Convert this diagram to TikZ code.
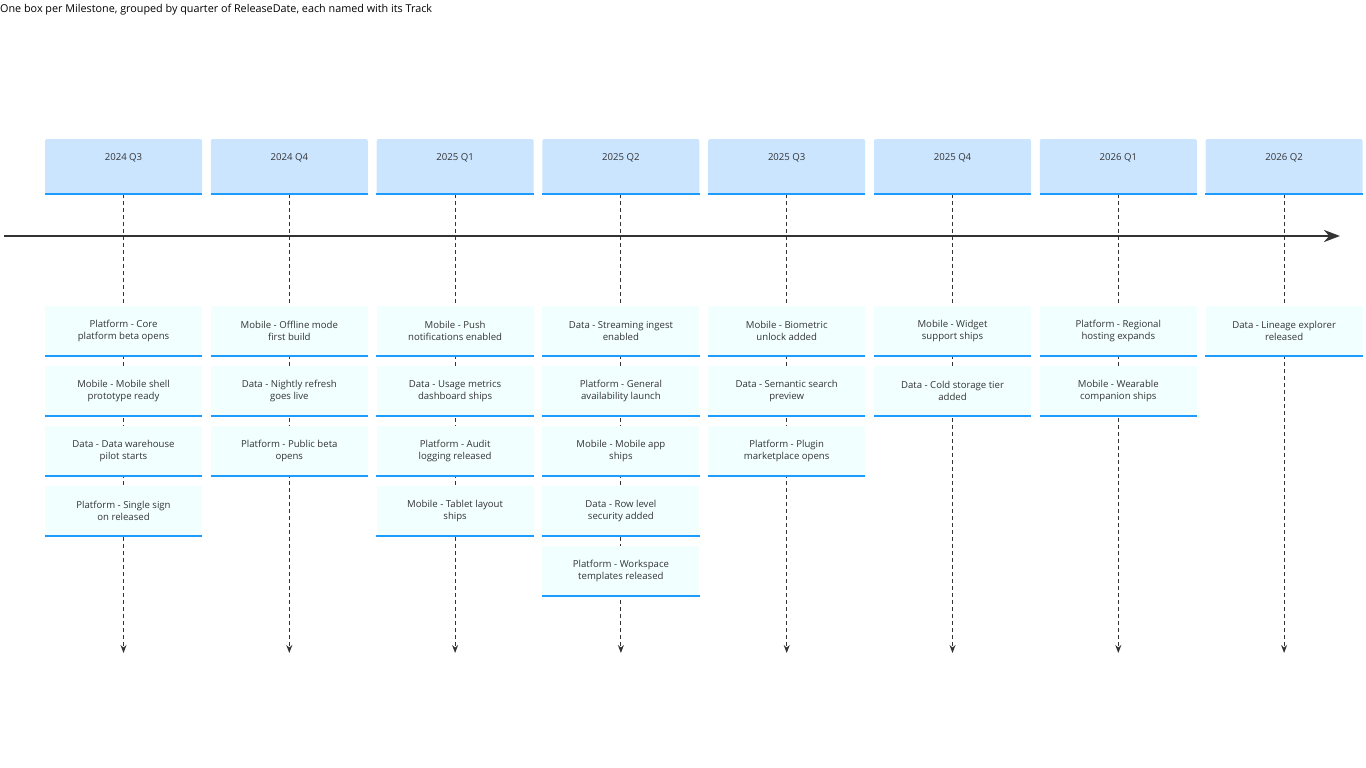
\documentclass[tikz,border=0pt]{standalone}
\usepackage{fontspec}
\setmainfont{Open Sans}
\usetikzlibrary{arrows.meta}
\definecolor{hdrfill}{HTML}{CCE5FF}
\definecolor{evfill}{HTML}{F2FFFF}
\definecolor{edge}{HTML}{1E9BFF}
\definecolor{axis}{HTML}{333333}
\tikzset{
  hdr/.style={fill=hdrfill,rounded corners=2pt,minimum width=157pt,minimum height=55pt,inner sep=0pt},
  ev/.style={fill=evfill,minimum width=157pt,minimum height=50pt,inner sep=0pt,align=center,font=\fontsize{9.6}{11.5}\selectfont,text=axis},
  bar/.style={edge,line width=1.8pt},
  stem/.style={axis,dashed,dash pattern=on 4pt off 3pt,line width=1.1pt,-{Stealth[length=8pt,width=6pt]}}
}
\begin{document}
\begin{tikzpicture}[x=1pt,y=-1pt]
  \useasboundingbox (0,0) rectangle (1366,768);
  \node[anchor=north west,inner sep=0pt,font=\fontsize{10.8}{12}\selectfont] (title) at (0,4) {One box per Milestone, grouped by quarter of ReleaseDate, each named with its Track};

  % quarters
  \foreach \i/\q in {1/2024 Q3,2/2024 Q4,3/2025 Q1,4/2025 Q2,5/2025 Q3,6/2025 Q4,7/2026 Q1,8/2026 Q2} {
    \pgfmathsetmacro{\cx}{123.5+165.8*(\i-1)}
    \coordinate (end\i) at (\cx,653);
    \node[hdr] (H\i) at (\cx,166.5) {};
    \node[font=\fontsize{9.6}{11}\selectfont,text=axis] (Q\i) at (\cx,158) {\q};
    \draw[stem] (H\i.south) -- (end\i);
    \draw[bar] (H\i.south west) -- (H\i.south east);
  }

  % time axis
  \coordinate (a0) at (4,236);
  \coordinate (a1) at (1340,236);
  \draw[axis,line width=2.8pt,-{Stealth[length=16pt,width=12pt]}] (a0) -- (a1);

  % milestones
  \foreach \i/\r/\t in {
    1/1/{Platform - Core\\platform beta opens},
    1/2/{Mobile - Mobile shell\\prototype ready},
    1/3/{Data - Data warehouse\\pilot starts},
    1/4/{Platform - Single sign\\on released},
    2/1/{Mobile - Offline mode\\first build},
    2/2/{Data - Nightly refresh\\goes live},
    2/3/{Platform - Public beta\\opens},
    3/1/{Mobile - Push\\notifications enabled},
    3/2/{Data - Usage metrics\\dashboard ships},
    3/3/{Platform - Audit\\logging released},
    3/4/{Mobile - Tablet layout\\ships},
    4/1/{Data - Streaming ingest\\enabled},
    4/2/{Platform - General\\availability launch},
    4/3/{Mobile - Mobile app\\ships},
    4/4/{Data - Row level\\security added},
    4/5/{Platform - Workspace\\templates released},
    5/1/{Mobile - Biometric\\unlock added},
    5/2/{Data - Semantic search\\preview},
    5/3/{Platform - Plugin\\marketplace opens},
    6/1/{Mobile - Widget\\support ships},
    6/2/{Data - Cold storage tier\\added},
    7/1/{Platform - Regional\\hosting expands},
    7/2/{Mobile - Wearable\\companion ships},
    8/1/{Data - Lineage explorer\\released}} {
    \pgfmathsetmacro{\cx}{123.5+165.8*(\i-1)}
    \pgfmathsetmacro{\cy}{331+60*(\r-1)}
    \node[ev] (E\i-\r) at (\cx,\cy) {\t};
    \draw[bar] (E\i-\r.south west) -- (E\i-\r.south east);
  }
\end{tikzpicture}
\end{document}
